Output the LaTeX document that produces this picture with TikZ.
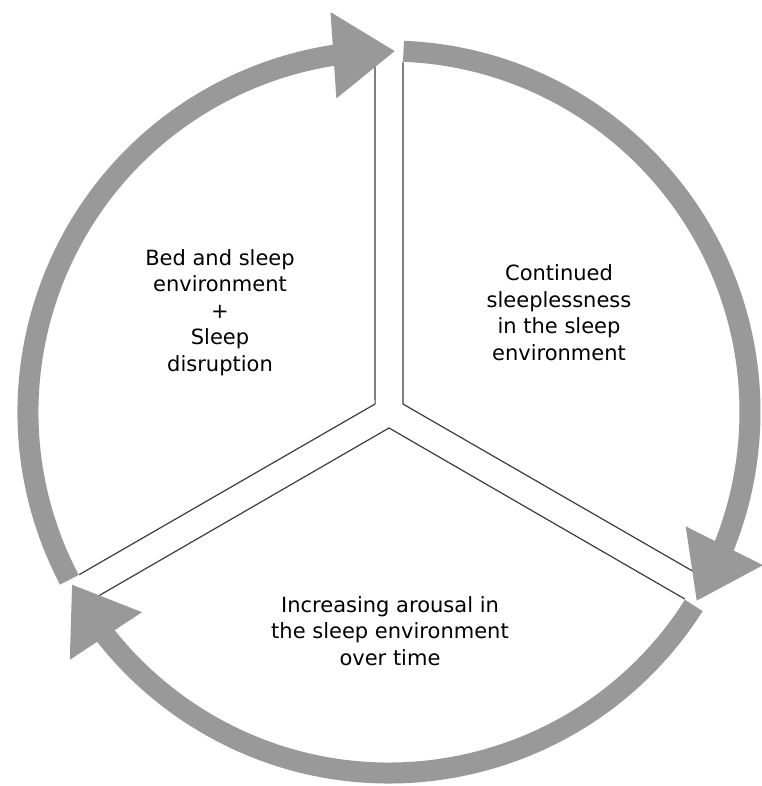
\documentclass[tikz,border=0pt]{standalone}
\usepackage{fontspec}
\setmainfont{DejaVu Sans}
\usetikzlibrary{arrows.meta, bending}
\definecolor{ringgray}{RGB}{153,153,153}
\definecolor{edgegray}{RGB}{60,60,60}

\begin{document}
\begin{tikzpicture}[x=1pt, y=1pt,
    every node/.style={align=center, font=\fontsize{21}{26.5}\selectfont},
    ring/.style={draw=ringgray, line width=21pt, -{Triangle[length=62pt, width=82pt]}},
    edge/.style={draw=edgegray, line width=1.2pt}]
  \useasboundingbox (-389,-374) rectangle (372,412);

  % sector corners
  \coordinate (r0) at (13.9,8);
  \coordinate (l0) at (-13.9,8);
  \coordinate (b0) at (0,-16);
  % sector ends on the ring
  \coordinate (r1) at (87.7:350);
  \coordinate (r2) at (-27.7:350);
  \coordinate (l1) at (92.3:350);
  \coordinate (l2) at (207.7:350);
  \coordinate (b1) at (212.3:350);
  \coordinate (b2) at (-32.3:350);

  \node (bed)   at (-169,99.5) {Bed and sleep\\environment\\+\\Sleep\\disruption};
  \node (cont)  at (170,99.5)  {Continued\\sleeplessness\\in the sleep\\environment};
  \node (incr)  at (1,-219)    {Increasing arousal in\\the sleep environment\\over time};

  \draw[edge] (r1) -- (r0) -- (r2);
  \draw[edge] (l1) -- (l0) -- (l2);
  \draw[edge] (b1) -- (b0) -- (b2);

  \draw[ring] (87.7:361) arc[start angle=87.7, end angle=-31.6, radius=361];
  \draw[ring] (-32.4:361) arc[start angle=-32.4, end angle=-151.5, radius=361];
  \draw[ring] (207.7:361) arc[start angle=207.7, end angle=89, radius=361];

\end{tikzpicture}
\end{document}
